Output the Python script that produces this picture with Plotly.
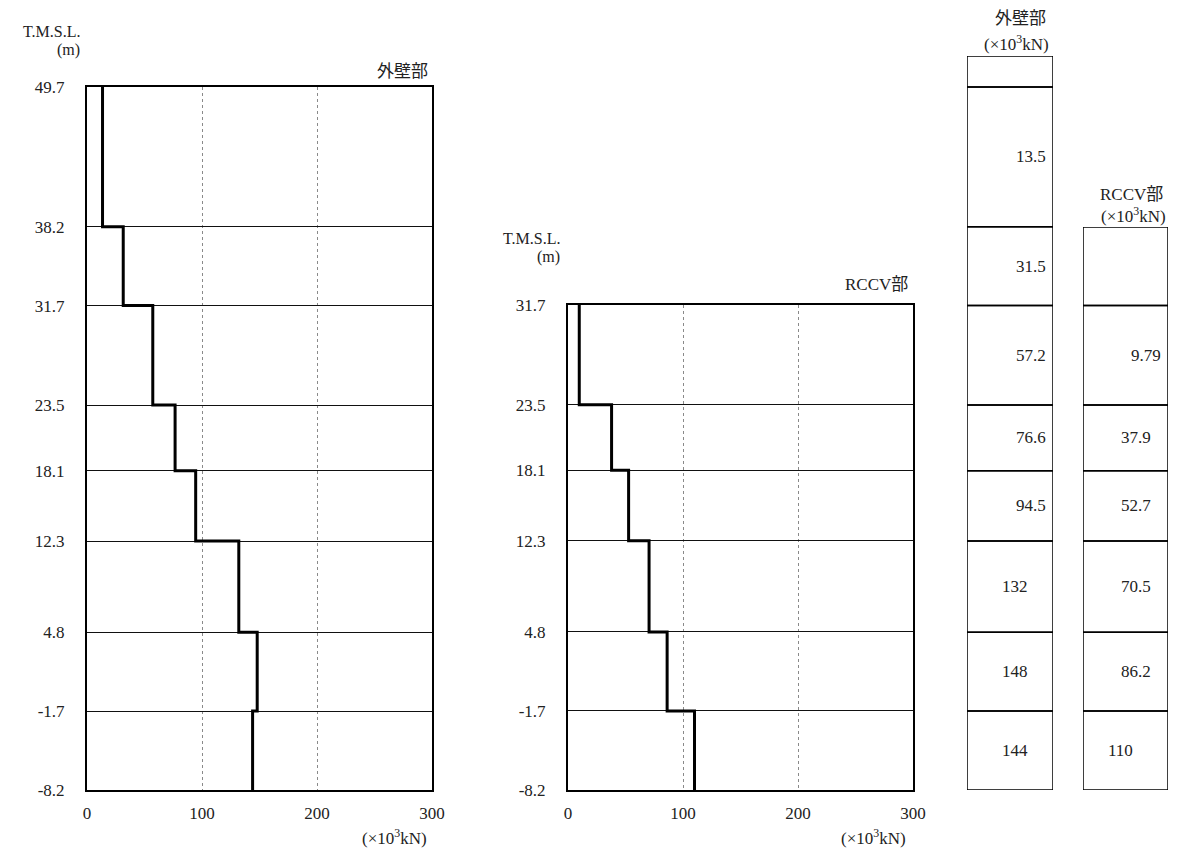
import plotly.graph_objects as go

# ---------------- data ----------------
levels_outer = [49.7, 38.2, 31.7, 23.5, 18.1, 12.3, 4.8, -1.7, -8.2]
shear_outer = [13.5, 31.5, 57.2, 76.6, 94.5, 132, 148, 144]
levels_rccv = [31.7, 23.5, 18.1, 12.3, 4.8, -1.7, -8.2]
shear_rccv = [9.79, 37.9, 52.7, 70.5, 86.2, 110]
x_ticks = [0, 100, 200, 300]

title_outer = "外壁部"
title_rccv = "RCCV部"
unit_label = "(×10<sup>3</sup>kN)"
elev_label = "T.M.S.L."
elev_unit = "(m)"

# ---------------- layout helpers ----------------
W, H = 1178, 855
OFF = 8  # page body margin of the generated html
FONT = "Liberation Serif, Noto Sans CJK JP, serif"
FS = 17
TXT = "#222"


def px(x):
    return (x - OFF) / W


def py(y):
    return 1 - (y - OFF) / H


# pixel boxes (target screen positions)
P1 = dict(x0=87, x1=432, y0=87, y1=790)
P2 = dict(x0=568, x1=913, y0=305, y1=790)
T1 = dict(x0=967, x1=1053, y0=56, y1=790)
T2 = dict(x0=1083, x1=1168, y0=227, y1=790)

ymin = levels_outer[-1]
scale = (levels_outer[0] - levels_outer[-1]) / (P1["y1"] - P1["y0"])  # m per px


def top_elev(box):
    return ymin + (box["y1"] - box["y0"]) * scale


fig = go.Figure()


def step_xy(levels, values):
    return list(values) + [values[-1]], list(levels)


x1, y1 = step_xy(levels_outer, shear_outer)
fig.add_trace(go.Scatter(x=x1, y=y1, mode="lines", line=dict(color="black", width=3, shape="vh"),
                         xaxis="x", yaxis="y", hoverinfo="skip", showlegend=False, cliponaxis=False))
x2, y2 = step_xy(levels_rccv, shear_rccv)
fig.add_trace(go.Scatter(x=x2, y=y2, mode="lines", line=dict(color="black", width=3, shape="vh"),
                         xaxis="x2", yaxis="y2", hoverinfo="skip", showlegend=False, cliponaxis=False))


def fmt(v):
    return f"{v:g}"


xax = dict(range=[0, 300], tickvals=x_ticks, ticktext=[fmt(v) for v in x_ticks],
           showgrid=True, gridcolor="#8a8a8a", griddash="dot", gridwidth=1,
           zeroline=False, showline=True, linecolor="black", linewidth=2, mirror=True,
           ticks="outside", ticklen=7, tickcolor="rgba(0,0,0,0)", automargin=False,
           tickfont=dict(family=FONT, size=FS, color=TXT), fixedrange=True)
yax = dict(showgrid=True, gridcolor="#111", gridwidth=1, zeroline=False,
           showline=True, linecolor="black", linewidth=2, mirror=True,
           ticks="outside", ticklen=17, tickcolor="rgba(0,0,0,0)", automargin=False,
           tickfont=dict(family=FONT, size=FS, color=TXT), fixedrange=True)

layout = dict(
    width=W, height=H, margin=dict(l=0, r=0, t=0, b=0, pad=0, autoexpand=False),
    paper_bgcolor="white", plot_bgcolor="white", showlegend=False,
    font=dict(family=FONT, size=FS, color=TXT),
    xaxis=dict(xax, domain=[px(P1["x0"]), px(P1["x1"])], anchor="y"),
    yaxis=dict(yax, domain=[py(P1["y1"]), py(P1["y0"])], anchor="x",
               range=[levels_outer[-1], levels_outer[0]],
               tickvals=levels_outer, ticktext=[fmt(v) for v in levels_outer]),
    xaxis2=dict(xax, domain=[px(P2["x0"]), px(P2["x1"])], anchor="y2"),
    yaxis2=dict(yax, domain=[py(P2["y1"]), py(P2["y0"])], anchor="x2",
                range=[levels_rccv[-1], levels_rccv[0]],
                tickvals=levels_rccv, ticktext=[fmt(v) for v in levels_rccv]),
    xaxis3=dict(domain=[px(T1["x0"]), px(T1["x1"])], range=[0, 1], visible=False, anchor="y3",
                fixedrange=True, automargin=False),
    yaxis3=dict(domain=[py(T1["y1"]), py(T1["y0"])], range=[ymin, top_elev(T1)], visible=False,
                anchor="x3", fixedrange=True, automargin=False),
    xaxis4=dict(domain=[px(T2["x0"]), px(T2["x1"])], range=[0, 1], visible=False, anchor="y4",
                fixedrange=True, automargin=False),
    yaxis4=dict(domain=[py(T2["y1"]), py(T2["y0"])], range=[ymin, top_elev(T2)], visible=False,
                anchor="x4", fixedrange=True, automargin=False),
)
fig.update_layout(**layout)

shapes = []
annotations = []


def table(levels, values, xr, yr, top, styles):
    bounds = [top] + list(levels)  # first cell is the empty header cell
    for i in range(len(bounds) - 1):
        shapes.append(dict(type="rect", xref=xr, yref=yr, x0=0, x1=1, y0=bounds[i + 1], y1=bounds[i],
                           line=dict(color="black", width=1.5), fillcolor="rgba(0,0,0,0)", layer="above"))
    for i, v in enumerate(values):
        xpos, anchor = styles[i]
        annotations.append(dict(xref=xr, yref=yr, x=xpos, y=(levels[i] + levels[i + 1]) / 2,
                                text=fmt(v), showarrow=False, xanchor=anchor, yanchor="middle",
                                font=dict(family=FONT, size=FS, color=TXT)))


# text placement per cell (fraction of cell width, anchor)
style_outer = [(0.94, "right")] * 5 + [(0.56, "center")] * 3
style_rccv = [(0.94, "right")] + [(0.62, "center")] * 4 + [(0.44, "center")]

table(levels_outer, shear_outer, "x3", "y3", top_elev(T1), style_outer)
table(levels_rccv, shear_rccv, "x4", "y4", top_elev(T2), style_rccv)


def ann(text, x, y, anchor="center", size=FS):
    annotations.append(dict(xref="paper", yref="paper", x=px(x), y=py(y), text=text, showarrow=False,
                            xanchor=anchor, yanchor="middle", font=dict(family=FONT, size=size, color=TXT)))


# left chart labels
ann(elev_label, 82, 32, "right", 16)
ann(elev_unit, 82, 50, "right", 16)
ann(title_outer, 430, 72, "right")
ann(unit_label, 429, 837, "right")
# right chart labels
ann(elev_label, 562, 239, "right", 16)
ann(elev_unit, 562, 257, "right", 16)
ann(title_rccv, 910, 284, "right")
ann(unit_label, 908, 837, "right")
# table labels
ann(title_outer, 1048, 19, "right")
ann(unit_label, 1051, 43, "right")
ann(title_rccv, 1165, 195, "right")
ann(unit_label, 1168, 215, "right")

fig.update_layout(shapes=shapes, annotations=annotations)
fig.write_html("out.html")
